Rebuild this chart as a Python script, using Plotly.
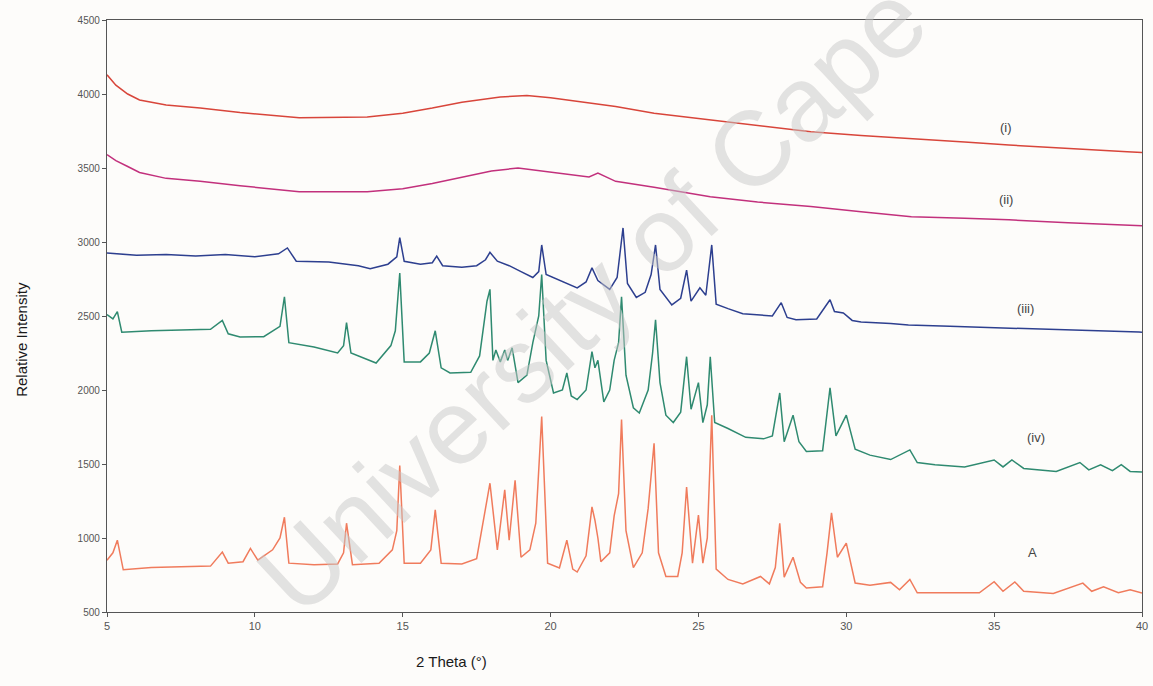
import plotly.graph_objects as go

# ---- data ----
x_i = [5, 5.3, 5.7, 6.1, 7, 8.15, 9.5, 11.5, 13.8, 15, 16, 17, 18.3, 19.2, 20, 21, 22.2,
       23.5, 25.4, 27, 28.8, 30.5, 32.2, 34, 35.5, 37.5, 39.5, 40]
y_i = [4130, 4060, 4000, 3960, 3925, 3905, 3875, 3840, 3845, 3870, 3905, 3945, 3980, 3990,
       3975, 3950, 3915, 3870, 3825, 3785, 3745, 3720, 3700, 3675, 3655, 3630, 3610, 3605]

x_ii = [5, 5.3, 5.7, 6.1, 7, 8.15, 9.5, 11.5, 13.8, 15, 16, 17, 18, 18.9, 19.7, 20.5, 21.3,
        21.6, 21.9, 22.2, 23.5, 25.4, 27, 28.8, 30.5, 32.2, 34, 35.5, 37.5, 39.5, 40]
y_ii = [3590, 3550, 3510, 3470, 3430, 3410, 3380, 3340, 3340, 3360, 3395, 3440, 3480, 3500,
        3480, 3455, 3440, 3465, 3440, 3410, 3370, 3305, 3270, 3240, 3205, 3170, 3160, 3150,
        3130, 3115, 3110]

x_iii = [5, 6, 7, 8, 9, 10, 10.8, 11.1, 11.4, 12.5, 13.5, 13.9, 14.5, 14.8, 14.9, 15.05, 15.6,
         16.0, 16.15, 16.35, 17.0, 17.5, 17.8, 17.95, 18.2, 18.6, 19.0, 19.4, 19.6, 19.7, 19.85,
         20.3, 20.9, 21.2, 21.4, 21.6, 22.0, 22.25, 22.45, 22.6, 22.9, 23.2, 23.4, 23.55, 23.7,
         24.1, 24.4, 24.6, 24.75, 25.05, 25.25, 25.45, 25.6, 26.0, 26.5, 27.5, 27.8, 28.0, 28.3,
         29.0, 29.45, 29.6, 29.9, 30.2, 30.5, 31.5, 32.1, 33.5, 35.4, 37.5, 39.9, 40]
y_iii = [2925, 2910, 2915, 2905, 2915, 2900, 2920, 2960, 2870, 2865, 2840, 2820, 2850, 2900,
         3030, 2870, 2850, 2860, 2905, 2840, 2830, 2840, 2880, 2930, 2870, 2840, 2800, 2760,
         2800, 2980, 2780, 2740, 2690, 2730, 2825, 2740, 2680, 2760, 3095, 2720, 2625, 2660,
         2780, 2980, 2680, 2575, 2620, 2810, 2600, 2690, 2640, 2980, 2580, 2550, 2515, 2500,
         2590, 2490, 2475, 2480, 2610, 2530, 2520, 2470, 2460, 2450, 2440, 2430, 2420, 2405,
         2392, 2390]

x_iv = [5, 5.2, 5.35, 5.5, 6.5, 7.5, 8.5, 8.9, 9.1, 9.5, 10.3, 10.85, 11.0, 11.15, 12.0, 12.8,
        13.0, 13.1, 13.25, 14.1, 14.6, 14.75, 14.9, 15.05, 15.6, 15.9, 16.1, 16.3, 16.6, 17.3,
        17.6, 17.85, 17.95, 18.05, 18.15, 18.3, 18.45, 18.55, 18.7, 18.9, 19.2, 19.4, 19.6, 19.7,
        19.85, 20.1, 20.4, 20.55, 20.7, 20.9, 21.2, 21.4, 21.5, 21.6, 21.8, 22.0, 22.15, 22.3,
        22.4, 22.55, 22.8, 23.0, 23.3, 23.45, 23.55, 23.7, 23.9, 24.15, 24.4, 24.6, 24.75, 25.0,
        25.15, 25.3, 25.4, 25.55, 26.0, 26.6, 27.2, 27.5, 27.75, 27.9, 28.2, 28.4, 28.65, 29.2,
        29.45, 29.65, 30.0, 30.3, 30.8, 31.5, 32.15, 32.4, 33.0, 34.0, 35.0, 35.3, 35.6, 36.0,
        37.1, 37.9, 38.2, 38.6, 39.0, 39.3, 39.6, 40]
y_iv = [2510, 2480, 2530, 2390, 2400, 2405, 2410, 2470, 2380, 2358, 2360, 2430, 2630, 2320,
        2290, 2250, 2300, 2455, 2250, 2182, 2300, 2400, 2790, 2190, 2190, 2250, 2400, 2150,
        2115, 2120, 2230, 2600, 2680, 2200, 2270, 2190, 2270, 2200, 2285, 2050, 2100, 2320,
        2500, 2780, 2200, 1980, 2000, 2115, 1960, 1935, 2000, 2260, 2150, 2200, 1920, 2000,
        2200, 2320, 2630, 2100, 1880, 1845, 2000, 2250, 2475, 2050, 1830, 1780, 1850, 2225,
        1870, 2050, 1780, 1900, 2225, 1780, 1740, 1680, 1670, 1690, 1980, 1650, 1830, 1650,
        1585, 1590, 2015, 1690, 1830, 1600, 1560, 1530, 1595, 1510, 1495, 1480, 1527, 1480,
        1527, 1470, 1450, 1510, 1460, 1495, 1455, 1495, 1450, 1446]

x_A = [5, 5.2, 5.35, 5.55, 6.5, 7.5, 8.5, 8.9, 9.1, 9.6, 9.85, 10.1, 10.6, 10.85, 11.0, 11.15,
       12.0, 12.8, 13.0, 13.1, 13.3, 14.2, 14.65, 14.8, 14.9, 15.05, 15.6, 15.95, 16.1, 16.3,
       17.0, 17.5, 17.75, 17.95, 18.2, 18.45, 18.6, 18.8, 19.0, 19.3, 19.5, 19.7, 19.9, 20.3,
       20.55, 20.75, 20.9, 21.2, 21.4, 21.5, 21.6, 21.7, 22.0, 22.15, 22.3, 22.4, 22.55, 22.8,
       23.1, 23.3, 23.5, 23.65, 23.9, 24.3, 24.45, 24.6, 24.8, 25.0, 25.15, 25.3, 25.45, 25.6,
       26.0, 26.5, 27.1, 27.4, 27.6, 27.75, 27.9, 28.2, 28.45, 28.65, 29.2, 29.35, 29.5, 29.7,
       30.0, 30.3, 30.8, 31.5, 31.8, 32.15, 32.4, 33.5, 34.5, 35.0, 35.3, 35.7, 36.0, 37.0,
       38.0, 38.3, 38.7, 39.2, 39.6, 40]
y_A = [850, 900, 985, 785, 800, 805, 810, 905, 830, 840, 930, 850, 920, 1000, 1140, 830,
       820, 825, 900, 1100, 820, 830, 920, 1050, 1490, 830, 830, 920, 1190, 830, 825, 860,
       1150, 1370, 920, 1325, 985, 1390, 870, 920, 1100, 1820, 830, 797, 985, 790, 770, 880,
       1210, 1120, 1000, 840, 900, 1150, 1300, 1800, 1050, 800, 900, 1200, 1640, 900, 740,
       740, 900, 1345, 830, 1155, 830, 1000, 1830, 790, 720, 690, 740, 690, 800, 1100, 736,
       870, 700, 662, 670, 900, 1170, 870, 965, 696, 680, 700, 650, 720, 630, 628, 630, 705,
       640, 703, 640, 625, 695, 640, 670, 630, 650, 628]

series_labels = ["(i)", "(ii)", "(iii)", "(iv)", "A"]
x_ticks = [5, 10, 15, 20, 25, 30, 35, 40]
y_ticks = [500, 1000, 1500, 2000, 2500, 3000, 3500, 4000, 4500]

# ---- figure ----
colors = ["#d8453a", "#c2307c", "#2d3f8f", "#2f8a70", "#f07b5c"]
series = [(x_i, y_i), (x_ii, y_ii), (x_iii, y_iii), (x_iv, y_iv), (x_A, y_A)]

fig = go.Figure()
for (xs, ys), c, name in zip(series, colors, series_labels):
    fig.add_trace(go.Scatter(x=xs, y=ys, mode="lines", name=name,
                             line=dict(color=c, width=1.5)))

label_pos = [(35.4, 3777), (35.4, 3284), (36.05, 2554), (36.4, 1676), (36.3, 899)]
for (lx, ly), t in zip(label_pos, series_labels):
    fig.add_annotation(x=lx, y=ly, xref="x", yref="y", text=t, showarrow=False,
                       font=dict(family="Arial, Liberation Sans", size=13, color="#444"))

# watermark
fig.add_annotation(x=0.565, y=0.69, xref="paper", yref="paper",
                   xanchor="center", yanchor="middle",
                   text="University of Cape Town", showarrow=False, textangle=-43,
                   font=dict(family="Arial, Liberation Sans", size=106,
                             color="rgba(200,200,200,0.5)"))

# axis titles
fig.add_annotation(x=-0.082, y=0.46, xref="paper", yref="paper", text="Relative Intensity",
                   xanchor="center", yanchor="middle",
                   showarrow=False, textangle=-90,
                   font=dict(family="Arial, Liberation Sans", size=15, color="#1a1a1a"))
fig.add_annotation(x=0.3333, y=-0.083, xref="paper", yref="paper", text="2 Theta (°)",
                   xanchor="center", yanchor="middle", showarrow=False,
                   font=dict(family="Arial, Liberation Sans", size=15, color="#1a1a1a"))

fig.update_layout(
    width=1153, height=686,
    margin=dict(l=107, r=11, t=20, b=74),
    paper_bgcolor="#fdfcfa", plot_bgcolor="#fdfcfa",
    showlegend=False,
    xaxis=dict(range=[5, 40], tickvals=x_ticks, showgrid=False, zeroline=False,
               showline=True, linecolor="#555", linewidth=1.3, mirror=True,
               ticks="outside", ticklen=4, tickcolor="#555", automargin=False,
               tickfont=dict(family="Arial, Liberation Sans", size=11, color="#555")),
    yaxis=dict(range=[500, 4500], tickvals=y_ticks, showgrid=False, zeroline=False,
               showline=True, linecolor="#555", linewidth=1.3, mirror=True,
               ticks="outside", ticklen=4, tickcolor="#555", automargin=False,
               tickfont=dict(family="Arial, Liberation Sans", size=10, color="#555")),
)

fig.write_html(
    "out.html",
    config={"displayModeBar": False},
    post_script="document.body.style.margin='0px';document.body.style.overflow='hidden';",
)
